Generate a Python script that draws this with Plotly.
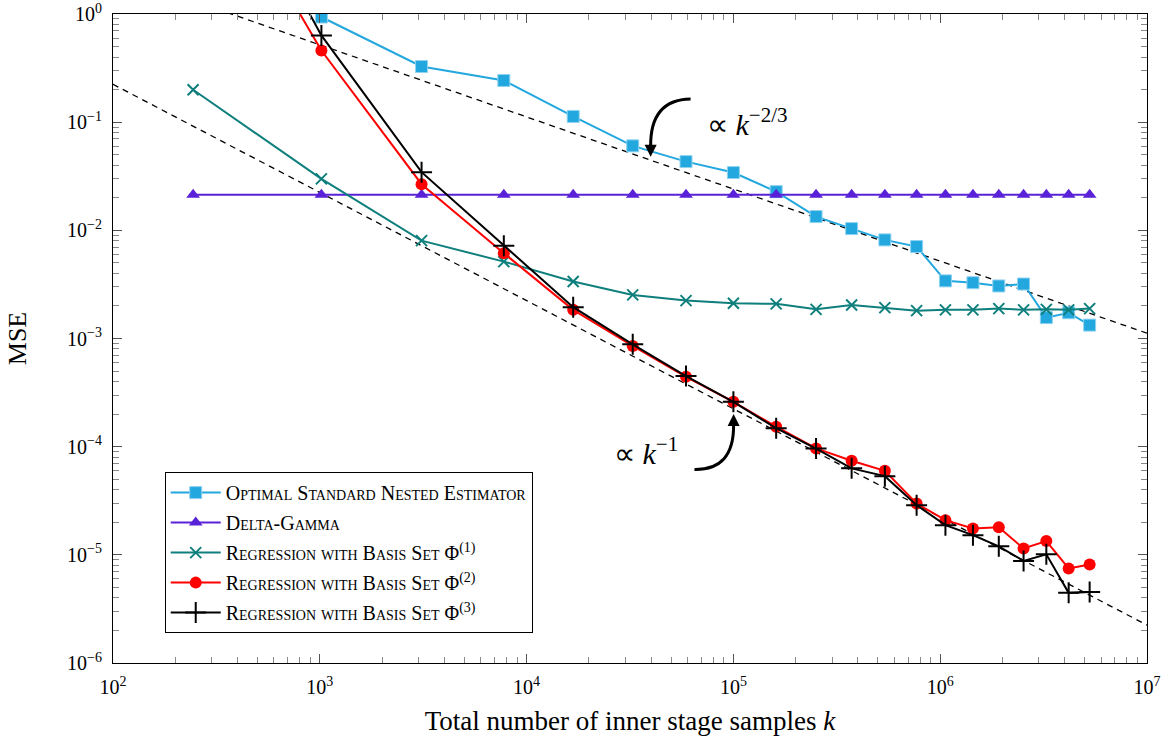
import numpy as np
import plotly.graph_objects as go

# ---------------- data ----------------
k_all = [244, 1018, 3105, 7760, 16800, 32600, 59000, 100000, 161000, 251000,
         373000, 540000, 769000, 1.06e6, 1.44e6, 1.92e6, 2.53e6, 3.26e6, 4.18e6, 5.28e6]

k_nested = k_all[1:]
mse_nested = [0.938, 0.327, 0.243, 0.113, 0.0604, 0.0432, 0.0342, 0.0228, 0.0134, 0.01038,
              0.00816, 0.00708, 0.00341, 0.00328, 0.00306, 0.00319, 0.00156, 0.00173, 0.00133]

k_dg = k_all
mse_dg = [0.0213] * 20

k_reg1 = k_all
mse_reg1 = [0.1994, 0.0299, 0.00803, 0.00514, 0.00336, 0.00253, 0.00224, 0.00212, 0.00209, 0.00186,
            0.00204, 0.00193, 0.00181, 0.00184, 0.00184, 0.00189, 0.00184, 0.00186, 0.00184, 0.00189]

k_reg2 = k_all
mse_reg2 = [48.0, 0.460, 0.0267, 0.00614, 0.00184, 0.000853, 0.000443, 0.000260, 0.000153, 9.63e-5,
            7.40e-5, 5.98e-5, 2.98e-5, 2.09e-5, 1.75e-5, 1.80e-5, 1.145e-5, 1.34e-5, 7.48e-6, 8.14e-6]

k_reg3 = k_all
mse_reg3 = [95.0, 0.634, 0.0345, 0.00722, 0.00195, 0.000884, 0.00045, 0.000260, 0.000148, 9.6e-5,
            6.30e-5, 5.34e-5, 2.88e-5, 1.88e-5, 1.52e-5, 1.20e-5, 8.79e-6, 1.01e-5, 4.45e-6, 4.54e-6]

# reference slopes
ref_k = [1e2, 1e7]
ref_c23 = 51.9   # MSE ~ c * k^(-2/3)
ref_c1 = 22.4    # MSE ~ c * k^(-1)
ref_23 = [ref_c23 * k ** (-2.0 / 3.0) for k in ref_k]
ref_1 = [ref_c1 * k ** (-1.0) for k in ref_k]

x_tickvals = [1e2, 1e3, 1e4, 1e5, 1e6, 1e7]
x_ticktext = ["10<sup>2</sup>", "10<sup>3</sup>", "10<sup>4</sup>", "10<sup>5</sup>",
              "10<sup>6</sup>", "10<sup>7</sup>"]
y_tickvals = [1e-6, 1e-5, 1e-4, 1e-3, 1e-2, 1e-1, 1e0]
y_ticktext = ["10<sup>−6</sup>", "10<sup>−5</sup>", "10<sup>−4</sup>", "10<sup>−3</sup>",
              "10<sup>−2</sup>", "10<sup>−1</sup>", "10<sup>0</sup>"]

names = ["Optimal Standard Nested Estimator", "Delta-Gamma",
         "Regression with Basis Set Φ<sup>(1)</sup>",
         "Regression with Basis Set Φ<sup>(2)</sup>",
         "Regression with Basis Set Φ<sup>(3)</sup>"]

# ---------------- figure ----------------
FONT = "Liberation Serif"
C_NEST = "#22A7DE"
C_DG = "#5A22D8"
C_R1 = "#0E7F7C"
C_R2 = "#FF0000"
C_R3 = "#000000"

fig = go.Figure()

fig.add_trace(go.Scatter(x=ref_k, y=ref_23, mode="lines", showlegend=False,
                         line=dict(color="black", width=1.3, dash="6px,5px")))
fig.add_trace(go.Scatter(x=ref_k, y=ref_1, mode="lines", showlegend=False,
                         line=dict(color="black", width=1.3, dash="6px,5px")))

fig.add_trace(go.Scatter(x=k_nested, y=mse_nested, mode="lines+markers", name=names[0],
                         legendgroup="a",
                         line=dict(color=C_NEST, width=2),
                         marker=dict(symbol="square", size=12, color=C_NEST,
                                     line=dict(color="#8fd3f0", width=1))))
fig.add_trace(go.Scatter(x=k_dg, y=mse_dg, mode="lines+markers", name=names[1],
                         legendgroup="b",
                         line=dict(color=C_DG, width=2),
                         marker=dict(symbol="triangle-up", size=12, color=C_DG)))
fig.add_trace(go.Scatter(x=k_reg1, y=mse_reg1, mode="lines+markers", name=names[2],
                         legendgroup="c",
                         line=dict(color=C_R1, width=2),
                         marker=dict(symbol="x-thin", size=11, color=C_R1,
                                     line=dict(color=C_R1, width=2))))
fig.add_trace(go.Scatter(x=k_reg2, y=mse_reg2, mode="lines+markers", name=names[3],
                         legendgroup="d",
                         line=dict(color=C_R2, width=2),
                         marker=dict(symbol="circle", size=12, color=C_R2)))
fig.add_trace(go.Scatter(x=k_reg3, y=mse_reg3, mode="lines+markers", name=names[4],
                         legendgroup="e",
                         line=dict(color=C_R3, width=2),
                         marker=dict(symbol="cross-thin", size=15, color=C_R3,
                                     line=dict(color=C_R3, width=2))))

# ---------------- layout ----------------
W, H = 1169, 740
PL, PR, PT, PB = 113.3, 1146.8, 14.3, 662.7      # desired plot area on screen
L, R, T, B = PL, W - PR, PT, H - PB
pw, ph = PR - PL, PB - PT


def to_paper(sx, sy):
    return (sx - PL) / pw, (PB - sy) / ph


axis_common = dict(
    type="log", showgrid=False, zeroline=False, showline=True, linecolor="black",
    linewidth=1, mirror="allticks", ticks="inside", ticklen=9, tickcolor="#555",
    tickwidth=1, tickfont=dict(family=FONT, size=20, color="black"), automargin=False,
    ticklabelstandoff=6, ticklabeloverflow="allow",
    minor=dict(ticks="inside", ticklen=6, tickcolor="#888", tickwidth=1,
               dtick="D1", showgrid=False),
)

fig.update_xaxes(**axis_common, range=[2, 7], tickmode="array",
                 tickvals=x_tickvals, ticktext=x_ticktext,
                 title=dict(text="Total number of inner stage samples <i>k</i>",
                            font=dict(family=FONT, size=27, color="black"), standoff=14))
fig.update_yaxes(**axis_common, range=[-6, 0], tickmode="array",
                 tickvals=y_tickvals, ticktext=y_ticktext,
                 title=dict(text="MSE", font=dict(family=FONT, size=26, color="black"),
                            standoff=32))

# curved arrows (paper coords)
s1 = to_paper(690.6, 99.3)
c1 = to_paper(650.0, 100.0)
e1 = to_paper(650.7, 147.0)
s2 = to_paper(694.5, 469.3)
c2 = to_paper(734.0, 470.0)
e2 = to_paper(733.6, 425.0)
shapes = [
    dict(type="path", xref="paper", yref="paper",
         path=f"M {s1[0]:.5f},{s1[1]:.5f} Q {c1[0]:.5f},{c1[1]:.5f} {e1[0]:.5f},{e1[1]:.5f}",
         line=dict(color="black", width=3)),
    dict(type="path", xref="paper", yref="paper",
         path=f"M {s2[0]:.5f},{s2[1]:.5f} Q {c2[0]:.5f},{c2[1]:.5f} {e2[0]:.5f},{e2[1]:.5f}",
         line=dict(color="black", width=3)),
]

t1 = to_paper(650.7, 157)
t2 = to_paper(733.6, 414)
lab1 = to_paper(747, 101)
lab2 = to_paper(646, 472)
annotations = [
    dict(xref="paper", yref="paper", x=t1[0], y=t1[1], text="", showarrow=True,
         ax=0, ay=-14, arrowhead=2, arrowsize=1, arrowwidth=2.4, arrowcolor="black"),
    dict(xref="paper", yref="paper", x=t2[0], y=t2[1], text="", showarrow=True,
         ax=0, ay=14, arrowhead=2, arrowsize=1, arrowwidth=2.4, arrowcolor="black"),
    dict(xref="paper", yref="paper", x=lab1[0], y=lab1[1], showarrow=False,
         text="∝ <i>k</i><sup>−2/3</sup>", font=dict(family=FONT, size=30, color="black")),
    dict(xref="paper", yref="paper", x=lab2[0], y=lab2[1], showarrow=False,
         text="∝ <i>k</i><sup>−1</sup>", font=dict(family=FONT, size=30, color="black")),
]

lx, ly = to_paper(165, 472)
fig.update_layout(
    width=W, height=H,
    margin=dict(l=L, r=R, t=T, b=B, autoexpand=False),
    plot_bgcolor="white", paper_bgcolor="white",
    font=dict(family=FONT, color="black"),
    shapes=shapes, annotations=annotations,
    legend=dict(x=lx, y=ly, xanchor="left", yanchor="top",
                bgcolor="white", bordercolor="black", borderwidth=1,
                font=dict(family=FONT, size=20, color="black", variant="small-caps"),
                tracegroupgap=1, itemwidth=50),
)

# remove the default 8px page margin so the figure fills the window exactly
fig.write_html("out.html", config={"displayModeBar": False},
               post_script="document.body.style.margin='0px';document.body.style.overflow='hidden';")
